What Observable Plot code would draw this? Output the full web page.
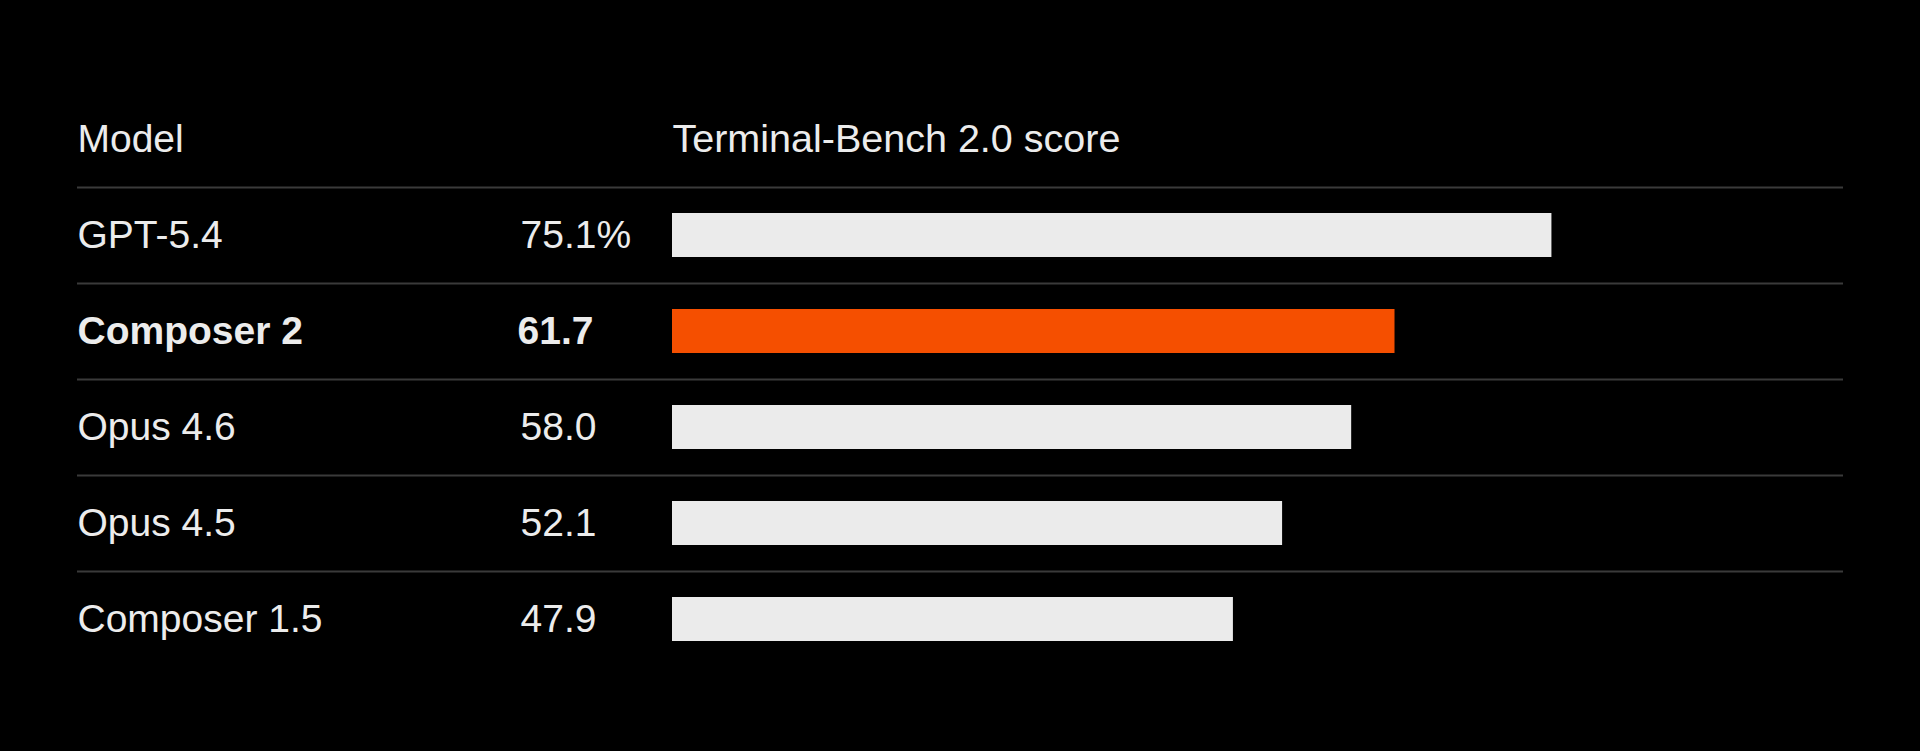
<!DOCTYPE html>
<html>
<head>
<meta charset="utf-8">
<script src="https://cdn.jsdelivr.net/npm/d3@7"></script>
<script src="https://cdn.jsdelivr.net/npm/@observablehq/plot@0.6"></script>
<style>
  html, body { margin: 0; padding: 0; background: #000; }
  #chart svg { display: block; }
</style>
</head>
<body>
<div id="chart"></div>
<script>
const models = ["GPT-5.4", "Composer 2", "Opus 4.6", "Opus 4.5", "Composer 1.5"];
const scores = [75.1, 61.7, 58.0, 52.1, 47.9];
const scoreLabels = ["75.1%", "61.7", "58.0", "52.1", "47.9"];
const highlight = "Composer 2";
const headers = ["Model", "Terminal-Bench 2.0 score"];

const rows = models.map((m, i) => ({model: m, score: scores[i], label: scoreLabels[i]}));
const isHi = d => d.model === highlight;
const notHi = d => d.model !== highlight;

const font = "'Liberation Sans', Arial, Helvetica, sans-serif";
const textColor = "#ececec";

const chart = Plot.plot({
  width: 1920,
  height: 751,
  marginLeft: 77,
  marginRight: 77,
  marginTop: 187,
  marginBottom: 84,
  style: {background: "#000", color: textColor, fontFamily: font},
  x: {domain: [0, 100], range: [672, 1843], axis: null},
  y: {domain: models, range: [187, 667], padding: 0, axis: null},
  marks: [
    Plot.ruleY(models, {y: d => d, dy: -48, stroke: "#3a3a3a", strokeWidth: 2}),
    Plot.barX(rows, {filter: notHi, x: "score", y: "model", fill: "#ebebeb", insetTop: 26, insetBottom: 26}),
    Plot.barX(rows, {filter: isHi, x: "score", y: "model", fill: "#f54f00", insetTop: 26, insetBottom: 26}),
    Plot.text(rows, {filter: notHi, y: "model", text: "model", frameAnchor: "left", textAnchor: "start", fill: textColor, fontSize: 39, fontWeight: 400}),
    Plot.text(rows, {filter: isHi, y: "model", text: "model", frameAnchor: "left", textAnchor: "start", fill: textColor, fontSize: 39, fontWeight: 700}),
    Plot.text(rows, {filter: notHi, y: "model", text: "label", frameAnchor: "left", textAnchor: "start", dx: 443, fill: textColor, fontSize: 39, fontWeight: 400}),
    Plot.text(rows, {filter: isHi, y: "model", text: "label", frameAnchor: "left", textAnchor: "start", dx: 440, fill: textColor, fontSize: 39, fontWeight: 700}),
    Plot.text([headers[0]], {text: d => d, frameAnchor: "top-left", textAnchor: "start", lineAnchor: "bottom", dy: -36, fill: textColor, fontSize: 39}),
    Plot.text([headers[1]], {text: d => d, x: 0, frameAnchor: "top", textAnchor: "start", lineAnchor: "bottom", dy: -36, dx: 0, fill: textColor, fontSize: 39.5})
  ]
});
document.getElementById("chart").appendChild(chart);
</script>
</body>
</html>
